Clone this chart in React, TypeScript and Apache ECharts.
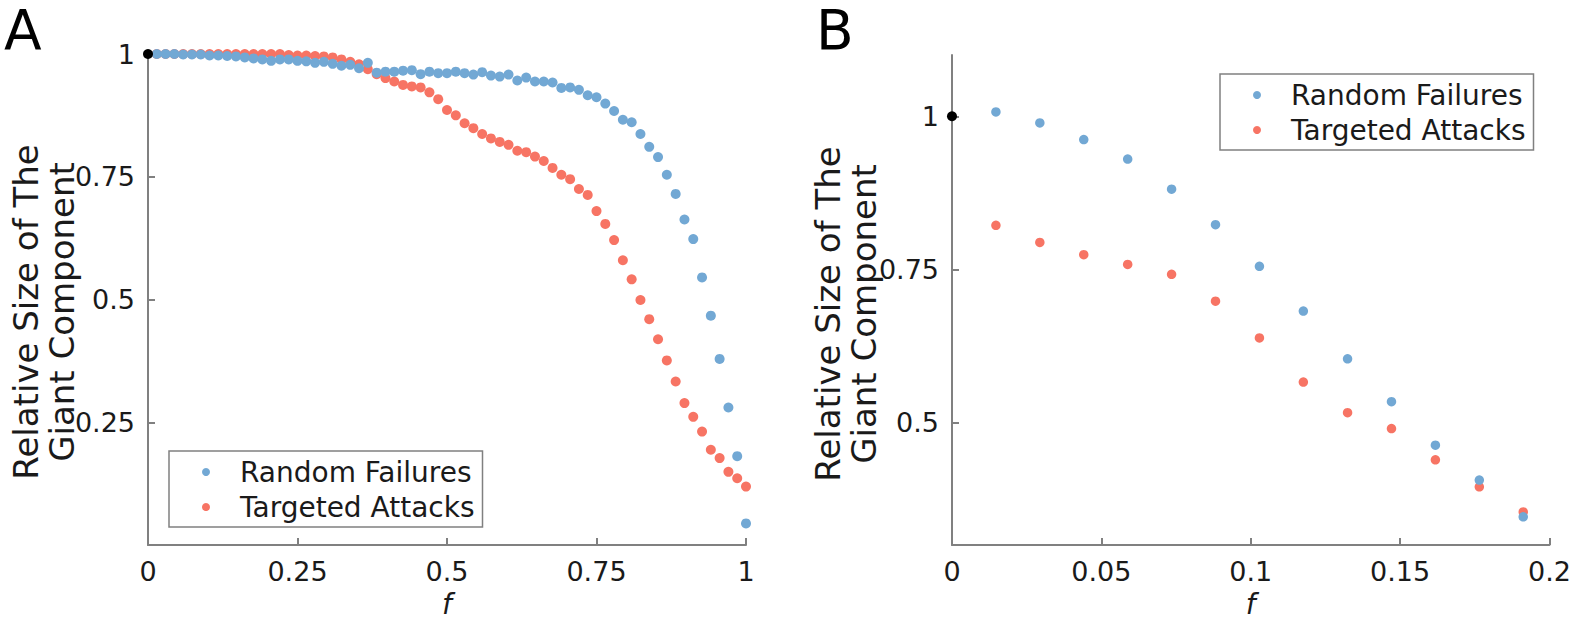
import React, { useEffect, useRef } from "react";
import * as echarts from "echarts";

// f grid (fraction of removed nodes)
const F_GRID = [
  0.0147, 0.0294, 0.0441, 0.0588, 0.0735, 0.0882, 0.1029, 0.1176, 0.1324, 0.1471,
  0.1618, 0.1765, 0.1912, 0.2059, 0.2206, 0.2353, 0.25, 0.2647, 0.2794, 0.2941,
  0.3088, 0.3235, 0.3382, 0.3529, 0.3676, 0.3824, 0.3971, 0.4118, 0.4265, 0.4412,
  0.4559, 0.4706, 0.4853, 0.5, 0.5147, 0.5294, 0.5441, 0.5588, 0.5735, 0.5882,
  0.6029, 0.6176, 0.6324, 0.6471, 0.6618, 0.6765, 0.6912, 0.7059, 0.7206, 0.7353,
  0.75, 0.7647, 0.7794, 0.7941, 0.8088, 0.8235, 0.8382, 0.8529, 0.8676, 0.8824,
  0.8971, 0.9118, 0.9265, 0.9412, 0.9559, 0.9706, 0.9853, 1,
];

// Panel A
const RANDOM_A = [
  1.0, 1.0, 1.0, 0.999, 0.999, 0.999, 0.997, 0.997, 0.996, 0.995,
  0.993, 0.991, 0.989, 0.986, 0.989, 0.989, 0.986, 0.985, 0.982, 0.984,
  0.98, 0.976, 0.978, 0.971, 0.982, 0.962, 0.964, 0.964, 0.966, 0.967,
  0.959, 0.964, 0.961, 0.961, 0.964, 0.961, 0.958, 0.963, 0.956, 0.954,
  0.958, 0.946, 0.952, 0.944, 0.944, 0.942, 0.931, 0.932, 0.927, 0.916,
  0.912, 0.899, 0.884, 0.866, 0.861, 0.837, 0.811, 0.79, 0.754, 0.715,
  0.663, 0.623, 0.545, 0.467, 0.379, 0.28, 0.181, 0.044,
];
const TARGETED_A = [
  1.0, 1.0, 1.0, 1.0, 1.0, 1.0, 1.0, 1.0, 1.0, 1.0,
  1.0, 1.0, 1.0, 1.0, 1.0, 0.998, 0.997, 0.997, 0.996, 0.995,
  0.993, 0.989, 0.984, 0.979, 0.969, 0.959, 0.951, 0.944, 0.937, 0.934,
  0.932, 0.922, 0.908, 0.886, 0.875, 0.859, 0.849, 0.837, 0.828, 0.821,
  0.815, 0.803, 0.8, 0.791, 0.782, 0.768, 0.754, 0.745, 0.725, 0.713,
  0.68, 0.654, 0.621, 0.58, 0.541, 0.499, 0.46, 0.419, 0.376, 0.333,
  0.289, 0.261, 0.231, 0.194, 0.177, 0.149, 0.136, 0.119,
];

// Panel B (first 13 f values)
const RANDOM_B = [1.007, 0.989, 0.962, 0.93, 0.881, 0.823, 0.755, 0.682, 0.604, 0.534, 0.463, 0.406, 0.346];
const TARGETED_B = [0.822, 0.794, 0.774, 0.758, 0.742, 0.698, 0.638, 0.566, 0.516, 0.49, 0.439, 0.395, 0.354];

const ORIGIN = [[0, 1]];
const Y_TICKS_A = [0.25, 0.5, 0.75, 1];
const Y_TICKS_B = [0.5, 0.75, 1];
const LEGEND_NAMES = ["Random Failures", "Targeted Attacks"];
const Y_TITLE = "Relative Size of The\nGiant Component";

const BLUE = "#72a8d4";
const RED = "#f77464";
const AXIS = "#808080";
const TEXT = "#1a1a1a";
const FONT = "DejaVu Sans";

function zip(xs: number[], ys: number[]) {
  return ys.map((y, i) => [xs[i], y]);
}

export default function App() {
  const ref = useRef<HTMLDivElement>(null);

  useEffect(() => {
    if (!ref.current) return;
    const chart = echarts.init(ref.current, undefined, { renderer: "svg" });

    const lineStyle = { color: AXIS, width: 2 };
    const label = { color: TEXT, fontSize: 27, fontFamily: FONT, margin: 13 };

    const xAxisBase = (gridIndex: number, max: number, interval: number) => ({
      gridIndex,
      type: "value",
      min: 0,
      max,
      interval,
      axisLine: { show: true, onZero: false, lineStyle },
      axisTick: { show: true, inside: true, length: 7, lineStyle },
      axisLabel: { ...label },
      splitLine: { show: false },
      name: "f",
      nameLocation: "middle",
      nameGap: 45,
      nameTextStyle: { fontStyle: "italic", fontSize: 28, color: TEXT, fontFamily: FONT },
    });

    const yAxisBase = (gridIndex: number, min: number, max: number, ticks: number[]) => ({
      gridIndex,
      type: "value",
      min,
      max,
      axisLine: { show: true, onZero: false, lineStyle },
      axisTick: { show: true, inside: true, length: 7, lineStyle, customValues: ticks },
      axisLabel: { ...label, customValues: ticks },
      splitLine: { show: false },
    });

    const scatter = (name: string, data: number[][], color: string, axisIndex: number, size: number) => ({
      name,
      type: "scatter",
      xAxisIndex: axisIndex,
      yAxisIndex: axisIndex,
      data,
      symbol: "circle",
      symbolSize: size,
      itemStyle: { color, opacity: 1 },
      clip: false,
      emphasis: { disabled: true },
    });

    const legendBase = (left: number, top: number) => ({
      orient: "vertical",
      left,
      top,
      data: LEGEND_NAMES,
      icon: "circle",
      itemWidth: 8,
      itemHeight: 8,
      itemGap: 5,
      padding: [6, 8, 5, 33],
      borderColor: AXIS,
      borderWidth: 1.5,
      selectedMode: false,
      textStyle: { color: TEXT, fontSize: 28, lineHeight: 30, fontFamily: FONT, padding: [0, 0, 0, 25] },
    });

    const titleText = (x: number, y: number) => ({
      type: "text",
      x,
      y,
      rotation: Math.PI / 2,
      style: {
        text: Y_TITLE,
        fontSize: 34,
        lineHeight: 36,
        fontFamily: FONT,
        fill: TEXT,
        align: "center",
        verticalAlign: "middle",
      },
    });

    const panelLetter = (text: string, left: number) => ({
      type: "text",
      left,
      top: 2,
      style: { text, fontSize: 55, lineHeight: 52, fontFamily: FONT, fill: "#000" },
    });

    chart.setOption({
      animation: false,
      backgroundColor: "#ffffff",
      grid: [
        { left: 148, top: 54, width: 598, height: 491 },
        { left: 952, top: 55, width: 598, height: 490 },
      ],
      xAxis: [xAxisBase(0, 1, 0.25), xAxisBase(1, 0.2, 0.05)],
      yAxis: [yAxisBase(0, 0, 1, Y_TICKS_A), yAxisBase(1, 0.3, 1.1, Y_TICKS_B)],
      legend: [legendBase(169, 451), legendBase(1220, 74)],
      series: [
        scatter("Targeted Attacks", zip(F_GRID, TARGETED_A), RED, 0, 10),
        scatter("Random Failures", zip(F_GRID, RANDOM_A), BLUE, 0, 10),
        scatter("origin", ORIGIN, "#000000", 0, 10),
        scatter("Targeted Attacks", zip(F_GRID, TARGETED_B), RED, 1, 9.5),
        scatter("Random Failures", zip(F_GRID, RANDOM_B), BLUE, 1, 9.5),
        scatter("origin", ORIGIN, "#000000", 1, 10),
      ],
      graphic: [
        panelLetter("A", 4),
        panelLetter("B", 816),
        titleText(44, 312),
        titleText(846, 314),
      ],
    });

    return () => chart.dispose();
  }, []);

  return (
    <div
      ref={ref}
      style={{ position: "absolute", left: 0, top: 0, width: 1574, height: 627, background: "#fff" }}
    />
  );
}
